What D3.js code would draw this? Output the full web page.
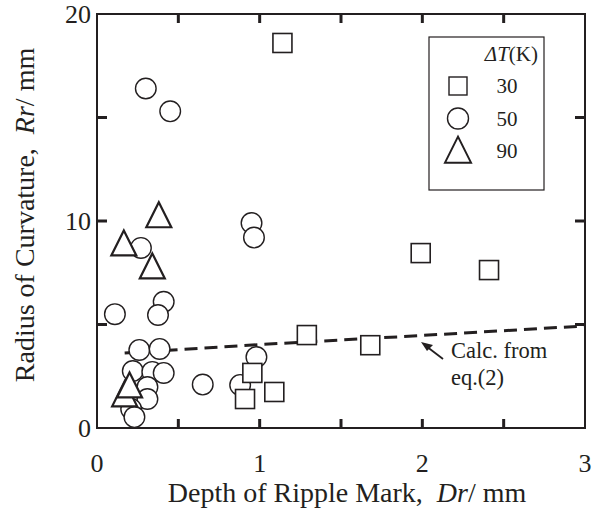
<!DOCTYPE html>
<html><head><meta charset="utf-8">
<script src="https://cdn.jsdelivr.net/npm/d3@7"></script>
<style>body{margin:0;background:#fff}svg{display:block}text{font-family:"Liberation Serif","Times New Roman",serif;fill:#231f20}</style>
</head><body><svg id="c" width="593" height="515"></svg>
<script>
// Data: [Dr (mm), Rr (mm)]
const dT30 = [[1.14,18.6],[1.99,8.45],[2.41,7.63],[1.29,4.49],[1.68,4.0],[0.955,2.66],[0.91,1.40],[1.09,1.74]];
const dT50 = [[0.30,16.4],[0.45,15.3],[0.95,9.9],[0.965,9.2],[0.27,8.7],[0.11,5.5],[0.41,6.1],[0.375,5.46],
  [0.65,2.1],[0.88,2.08],[0.26,3.77],[0.385,3.82],[0.22,2.75],[0.34,2.71],[0.41,2.66],[0.31,1.98],[0.31,1.4],[0.21,0.92],[0.23,0.53],[0.98,3.43]];
const dT90 = [[0.38,10.1],[0.165,8.74],[0.34,7.63],[0.17,1.45],[0.2,1.88]];
const calcLine = [[0.17,3.62],[1,4.03],[2,4.47],[3,4.93]];
const xTicks = [0,1,2,3];
const xMinor = [0.5,1.5,2.5];
const yTicks = [0,10,20];
const yMinor = [5,15];
const legendItems = [{label:"30",shape:"square"},{label:"50",shape:"circle"},{label:"90",shape:"triangle"}];

const svg = d3.select("#c");
const L=97, R=585, T=14, B=428;
const x = d3.scaleLinear().domain([0,3]).range([L,R]);
const y = d3.scaleLinear().domain([0,20]).range([B,T]);
const ink = "#231f20";

// ticks (inward)
const tk = svg.append("g").attr("stroke",ink).attr("stroke-width",3);
const allX = xTicks.concat(xMinor).filter(v=>v>0&&v<3);
allX.forEach(v=>{
  tk.append("line").attr("x1",x(v)).attr("x2",x(v)).attr("y1",B).attr("y2",B-9);
  tk.append("line").attr("x1",x(v)).attr("x2",x(v)).attr("y1",T).attr("y2",T+9);
});
const allY = yTicks.concat(yMinor).filter(v=>v>0&&v<20);
allY.forEach(v=>{
  tk.append("line").attr("y1",y(v)).attr("y2",y(v)).attr("x1",L).attr("x2",L+10);
  tk.append("line").attr("y1",y(v)).attr("y2",y(v)).attr("x1",R).attr("x2",R-10);
});
svg.append("rect").attr("x",L).attr("y",T).attr("width",R-L).attr("height",B-T)
  .attr("fill","none").attr("stroke",ink).attr("stroke-width",2);

// tick labels
svg.selectAll(".xl").data(xTicks).enter().append("text")
  .attr("x",d=>x(d)).attr("y",B+44).attr("text-anchor","middle").attr("font-size",26).text(d=>d);
svg.selectAll(".yl").data(yTicks).enter().append("text")
  .attr("x",L-6).attr("y",d=>y(d)+9).attr("text-anchor","end").attr("font-size",26).text(d=>d);

// axis titles
const xt = svg.append("text").attr("x",347).attr("y",502).attr("text-anchor","middle").attr("font-size",28);
xt.append("tspan").text("Depth of Ripple Mark,\u00a0\u00a0");
xt.append("tspan").attr("font-style","italic").text("Dr");
xt.append("tspan").text("/ mm");
const yt = svg.append("text").attr("transform","translate(34,215) rotate(-90)").attr("text-anchor","middle").attr("font-size",28);
yt.append("tspan").text("Radius of Curvature,\u00a0\u00a0");
yt.append("tspan").attr("font-style","italic").text("Rr");
yt.append("tspan").text("/ mm");

// calc line
svg.append("path").datum(calcLine).attr("fill","none").attr("stroke",ink).attr("stroke-width",3)
  .attr("stroke-dasharray","13,7").attr("d",d3.line().x(d=>x(d[0])).y(d=>y(d[1])));

// symbols
function tri(cx,cy,w,h){return `M${cx},${cy-2*h/3}L${cx+w/2},${cy+h/3}L${cx-w/2},${cy+h/3}Z`;}
const g = svg.append("g").attr("fill","#fff").attr("stroke",ink);
g.selectAll(".c").data(dT50).enter().append("circle").attr("cx",d=>x(d[0])).attr("cy",d=>y(d[1])).attr("r",10.3).attr("stroke-width",1.4);
g.selectAll(".s").data(dT30).enter().append("rect").attr("x",d=>x(d[0])-9.5).attr("y",d=>y(d[1])-9.5).attr("width",19).attr("height",19).attr("stroke-width",1.6);
g.selectAll(".t").data(dT90).enter().append("path").attr("d",d=>tri(x(d[0]),y(d[1]),25,25)).attr("stroke-width",2.2).attr("stroke-linejoin","miter");

// annotation
svg.append("line").attr("x1",443).attr("y1",359).attr("x2",426).attr("y2",346).attr("stroke",ink).attr("stroke-width",1.8);
svg.append("path").attr("d","M421,342 L433,345 L427,351 Z").attr("fill",ink);
svg.append("text").attr("x",451).attr("y",358).attr("font-size",22.5).text("Calc. from");
svg.append("text").attr("x",451).attr("y",385).attr("font-size",22.5).text("eq.(2)");

// legend
const lg = svg.append("g");
lg.append("rect").attr("x",429).attr("y",37).attr("width",115).attr("height",153).attr("fill","#fff").attr("stroke",ink).attr("stroke-width",1.2);
const hd = lg.append("text").attr("x",538).attr("y",61).attr("text-anchor","end").attr("font-size",21);
hd.append("tspan").attr("font-style","italic").text("\u0394T");
hd.append("tspan").text("(K)");
legendItems.forEach((it,i)=>{
  const cy = 86 + i*32.5;
  if(it.shape==="square") lg.append("rect").attr("x",458-9).attr("y",cy-9).attr("width",18).attr("height",18).attr("fill","#fff").attr("stroke",ink).attr("stroke-width",1.4);
  else if(it.shape==="circle") lg.append("circle").attr("cx",458).attr("cy",cy).attr("r",10.5).attr("fill","#fff").attr("stroke",ink).attr("stroke-width",1.4);
  else lg.append("path").attr("d",tri(458,cy+3,26,26)).attr("fill","#fff").attr("stroke",ink).attr("stroke-width",2);
  lg.append("text").attr("x",507).attr("y",cy+7).attr("text-anchor","middle").attr("font-size",21).text(it.label);
});
</script></body></html>
